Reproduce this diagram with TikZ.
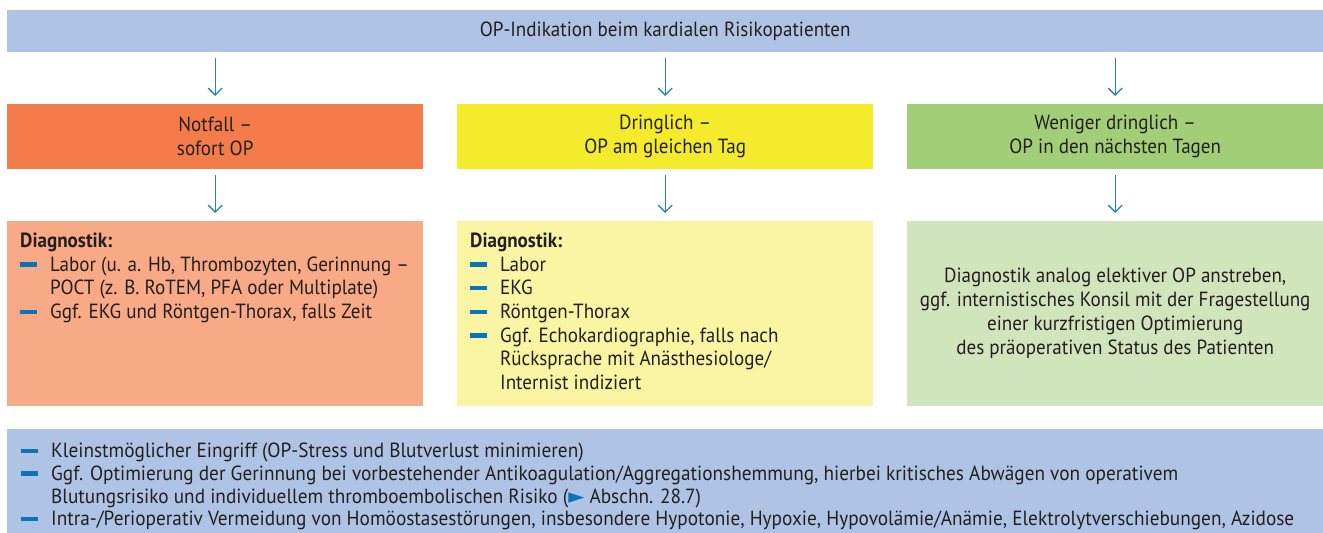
\documentclass[tikz,border=0pt]{standalone}
\usepackage{fontspec}
\setmainfont{PT Sans}[FakeStretch=0.93]
\newfontfamily\condfont{PT Sans}[FakeStretch=0.94]
\newfontfamily\symfont{DejaVu Sans}
\usetikzlibrary{arrows.meta}
\definecolor{topblue}{RGB}{175,196,229}
\definecolor{orangeA}{RGB}{244,124,75}
\definecolor{orangeB}{RGB}{248,169,134}
\definecolor{yellowA}{RGB}{245,235,45}
\definecolor{yellowB}{RGB}{250,245,163}
\definecolor{greenA}{RGB}{162,206,120}
\definecolor{greenB}{RGB}{209,229,188}
\definecolor{bulblue}{RGB}{10,116,187}
\definecolor{arrblue}{RGB}{42,127,193}
\definecolor{txt}{RGB}{35,31,32}
\newcommand\mybul{\makebox[30bp][l]{\textcolor{bulblue}{\rule[4.5bp]{17bp}{4.5bp}}}}
\newcommand\myind{\hspace*{30bp}}
\tikzset{
  box/.style={draw=none, inner sep=0, anchor=north west},
  arr/.style={draw=arrblue, line width=1.3bp, -{Straight Barb[length=7bp,width=14bp,line width=1.3bp]}, shorten <=6bp, shorten >=8bp},
  lbl/.style={inner sep=0, text=txt, font=\fontsize{20.5bp}{24bp}\selectfont, align=center},
  listtext/.style={inner sep=0, text=txt, font=\fontsize{20.5bp}{23.6bp}\selectfont, align=left, anchor=north west},
  bottomtext/.style={inner sep=0, text=txt, font=\condfont\fontsize{20.5bp}{22.6bp}\selectfont, align=left, anchor=north west},
}
\begin{document}
\begin{tikzpicture}[x=1bp,y=-1bp]
\useasboundingbox (0,0) rectangle (1323,533);
% boxes
\node[box, fill=topblue, minimum width=1316bp, minimum height=42bp] (top) at (7,10) {};
\node[box, fill=orangeA, minimum width=416bp, minimum height=65bp] (n1) at (7,104) {};
\node[box, fill=yellowA, minimum width=416bp, minimum height=65bp] (n2) at (457,104) {};
\node[box, fill=greenA, minimum width=416bp, minimum height=65bp] (n3) at (907,104) {};
\node[box, fill=orangeB, minimum width=416bp, minimum height=185bp] (d1) at (7,221) {};
\node[box, fill=yellowB, minimum width=416bp, minimum height=185bp] (d2) at (457,221) {};
\node[box, fill=greenB, minimum width=416bp, minimum height=185bp] (d3) at (907,221) {};
\node[box, fill=topblue, minimum width=1316bp, minimum height=104bp] (bot) at (7,429) {};
% labels
\node[lbl] (toplbl) at (top.center) {OP-Indikation beim kardialen Risikopatienten};
\node[lbl] (n1lbl) at (n1.center) {Notfall –\\sofort OP};
\node[lbl] (n2lbl) at (n2.center) {Dringlich –\\OP am gleichen Tag};
\node[lbl] (n3lbl) at (n3.center) {Weniger dringlich –\\OP in den nächsten Tagen};
\node[listtext] (d1lbl) at (20,233) {\textbf{Diagnostik:}\\
\mybul Labor (u. a. Hb, Thrombozyten, Gerinnung –\\
\myind POCT (z. B. RoTEM, PFA oder Multiplate)\\
\mybul Ggf. EKG und Röntgen-Thorax, falls Zeit};
\node[listtext] (d2lbl) at (470,233) {\textbf{Diagnostik:}\\
\mybul Labor\\
\mybul EKG\\
\mybul Röntgen-Thorax\\
\mybul Ggf. Echokardiographie, falls nach\\
\myind Rücksprache mit Anästhesiologe/\\
\myind Internist indiziert};
\node[lbl] (d3lbl) at (d3.center) {Diagnostik analog elektiver OP anstreben,\\
ggf. internistisches Konsil mit der Fragestellung\\
einer kurzfristigen Optimierung\\
des präoperativen Status des Patienten};
\node[bottomtext] (botlbl) at (21,443) {\mybul Kleinstmöglicher Eingriff (OP-Stress und Blutverlust minimieren)\\
\mybul Ggf. Optimierung der Gerinnung bei vorbestehender Antikoagulation/Aggregationshemmung, hierbei kritisches Abwägen von operativem\\
\myind Blutungsrisiko und individuellem thromboembolischen Risiko ({\symfont\fontsize{21bp}{21bp}\selectfont\textcolor{bulblue}{►}} Abschn. 28.7)\\
\mybul Intra-/Perioperativ Vermeidung von Homöostasestörungen, insbesondere Hypotonie, Hypoxie, Hypovolämie/Anämie, Elektrolytverschiebungen, Azidose};
% arrows
\draw[arr] (top.south -| n1.north) -- (n1.north);
\draw[arr] (top.south -| n2.north) -- (n2.north);
\draw[arr] (top.south -| n3.north) -- (n3.north);
\draw[arr] (n1.south) -- (d1.north);
\draw[arr] (n2.south) -- (d2.north);
\draw[arr] (n3.south) -- (d3.north);
\end{tikzpicture}
\end{document}
